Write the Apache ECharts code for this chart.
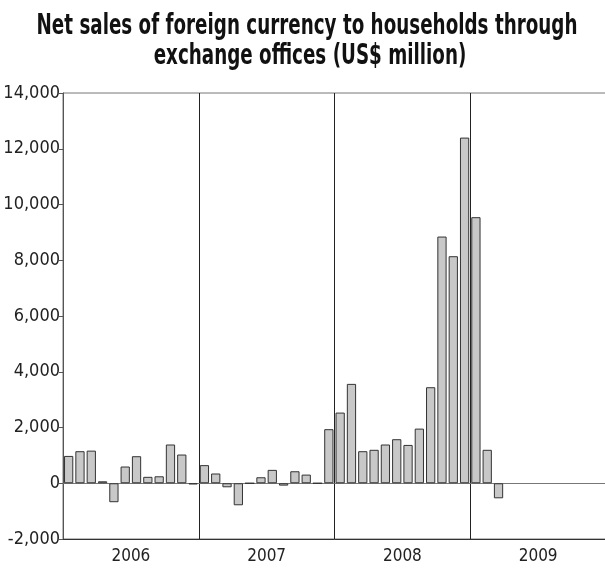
<!DOCTYPE html>
<html>
<head>
<meta charset="utf-8">
<script src="https://cdn.jsdelivr.net/npm/echarts@6/dist/echarts.min.js"></script>
<style>
  html, body { margin: 0; padding: 0; background: #fff; }
  #chart { width: 605px; height: 570px; }
</style>
</head>
<body>
<div id="chart"></div>
<script>
// Monthly net sales of foreign currency (US$ million), Jan 2006 - Dec 2009
const years = ['2006', '2007', '2008', '2009'];
const sales2006 = [980, 1150, 1170, 70, -680, 600, 970, 230, 250, 1390, 1030, -40];
const sales2007 = [650, 350, -145, -790, 0, 215, 480, -85, 430, 310, 0, 1940];
const sales2008 = [2535, 3565, 1150, 1200, 1390, 1580, 1375, 1960, 3445, 8850, 8145, 12400];
const sales2009 = [9545, 1200, -540, null, null, null, null, null, null, null, null, null];
const yTicks = { min: -2000, max: 14000, step: 2000 };
const titleLines = [
  'Net sales of foreign currency to households through',
  'exchange offices (US$ million)'
];

const months = [];
years.forEach(y => { for (let m = 1; m <= 12; m++) months.push(y + '-' + m); });
const values = [].concat(sales2006, sales2007, sales2008, sales2009);

const FONT = '"DejaVu Sans Condensed", "Liberation Sans Narrow", sans-serif';
const TITLE_SIZE = 28;

// The heading uses a narrow display face; squeeze the condensed font horizontally
// so the first line spans the intended width.
function measure(text, font) {
  const ctx = document.createElement('canvas').getContext('2d');
  ctx.font = font;
  return ctx.measureText(text).width;
}
const titleFont = 'bold ' + TITLE_SIZE + 'px "DejaVu Sans Condensed", sans-serif';
const titleScale = 541 / measure(titleLines[0], titleFont);

const chart = echarts.init(document.getElementById('chart'), null, { renderer: 'canvas' });
chart.setOption({
  backgroundColor: '#ffffff',
  animation: false,
  graphic: [
    {
      type: 'text',
      x: 307, y: 41,
      scaleX: titleScale,
      style: {
        text: titleLines[0], fill: '#111',
        font: titleFont, textAlign: 'center', textVerticalAlign: 'bottom'
      }
    },
    {
      type: 'text',
      x: 310, y: 71,
      scaleX: titleScale,
      style: {
        text: titleLines[1], fill: '#111',
        font: titleFont, textAlign: 'center', textVerticalAlign: 'bottom'
      }
    }
  ],
  grid: {
    left: 63, right: -1, top: 93, bottom: 31,
    containLabel: false, outerBoundsMode: 'none',
    show: true, borderColor: '#777', borderWidth: 1
  },
  xAxis: [
    {
      type: 'category',
      data: months,
      axisLine: { onZero: true, lineStyle: { color: '#777', width: 1 } },
      axisTick: { show: false },
      axisLabel: { show: false },
      splitLine: { show: false }
    },
    {
      type: 'category',
      data: years,
      position: 'bottom',
      axisLine: { onZero: false, lineStyle: { color: '#333', width: 1 } },
      axisTick: { show: false },
      axisLabel: { fontFamily: FONT, fontSize: 17, color: '#222', margin: 9 },
      splitLine: { show: true, lineStyle: { color: '#222', width: 1 } }
    }
  ],
  yAxis: {
    type: 'value',
    min: yTicks.min,
    max: yTicks.max,
    interval: yTicks.step,
    axisLine: { show: true, lineStyle: { color: '#555' } },
    axisTick: { show: true, length: 4, lineStyle: { color: '#555' } },
    axisLabel: {
      fontFamily: FONT, fontSize: 18, color: '#222', margin: 3,
      formatter: v => v.toLocaleString('en-US')
    },
    splitLine: { show: false }
  },
  series: [
    {
      type: 'bar',
      xAxisIndex: 0,
      data: values,
      barCategoryGap: '18%',
      itemStyle: { color: '#c8c8c8', borderColor: '#333', borderWidth: 1 }
    }
  ]
});
</script>
</body>
</html>
